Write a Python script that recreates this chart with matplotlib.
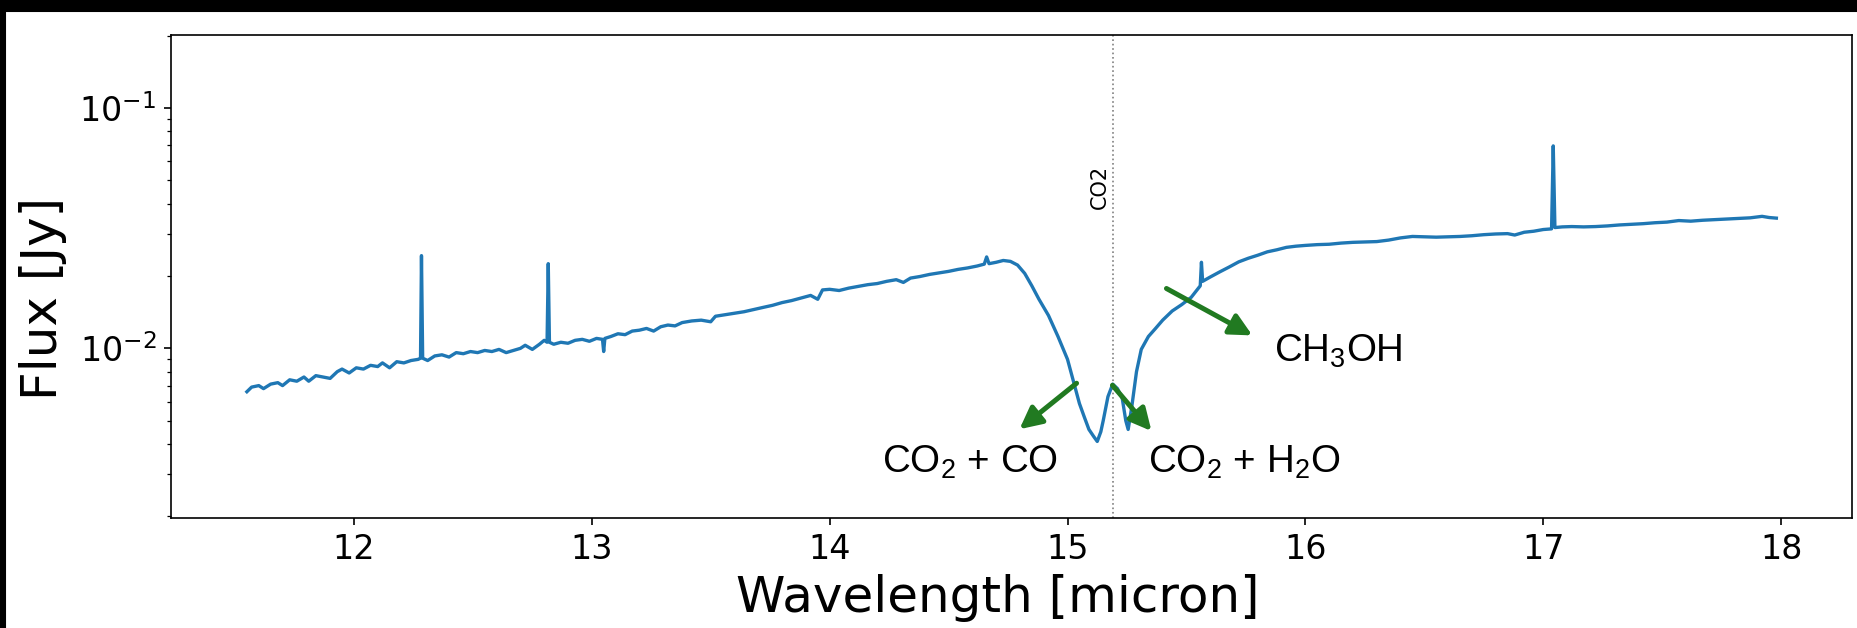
import matplotlib
matplotlib.use("Agg")
import matplotlib.pyplot as plt
from matplotlib.patches import Rectangle

# spectrum (wavelength in micron, flux in Jy)
wavelength = [
    11.55, 11.57, 11.60, 11.62, 11.65, 11.68, 11.70, 11.73, 11.76, 11.79,
    11.81, 11.84, 11.87, 11.90, 11.93, 11.95, 11.98, 12.01, 12.04, 12.07,
    12.10, 12.12, 12.15, 12.18, 12.21, 12.24, 12.27, 12.280, 12.284, 12.289,
    12.31, 12.34, 12.37, 12.40, 12.43, 12.46, 12.49, 12.52, 12.55, 12.58,
    12.61, 12.64, 12.67, 12.70, 12.72, 12.75, 12.78, 12.80, 12.812, 12.817,
    12.822, 12.84, 12.87, 12.90, 12.93, 12.96, 12.99, 13.02, 13.045, 13.05,
    13.055, 13.08, 13.11, 13.14, 13.17, 13.20, 13.23, 13.26, 13.29, 13.32,
    13.35, 13.38, 13.42, 13.46, 13.50, 13.52, 13.56, 13.60, 13.64, 13.68,
    13.72, 13.76, 13.80, 13.84, 13.88, 13.92, 13.95, 13.97, 14.00, 14.04,
    14.08, 14.12, 14.16, 14.20, 14.24, 14.28, 14.31, 14.34, 14.38, 14.42,
    14.46, 14.50, 14.54, 14.58, 14.62, 14.65, 14.66, 14.67, 14.70, 14.73,
    14.76, 14.79, 14.82, 14.85, 14.88, 14.92, 14.96, 15.00, 15.03, 15.05,
    15.07, 15.09, 15.11, 15.125, 15.14, 15.15, 15.17, 15.19, 15.21, 15.23,
    15.245, 15.255, 15.27, 15.29, 15.31, 15.34, 15.37, 15.40, 15.44, 15.48,
    15.52, 15.55, 15.558, 15.563, 15.568, 15.60, 15.64, 15.68, 15.72, 15.76,
    15.80, 15.84, 15.88, 15.92, 15.96, 16.00, 16.05, 16.10, 16.15, 16.20,
    16.25, 16.30, 16.35, 16.40, 16.45, 16.50, 16.55, 16.60, 16.65, 16.70,
    16.75, 16.80, 16.85, 16.88, 16.92, 16.96, 17.00, 17.035, 17.042, 17.049,
    17.08, 17.12, 17.17, 17.22, 17.27, 17.32, 17.37, 17.42, 17.47, 17.52,
    17.57, 17.62, 17.67, 17.72, 17.77, 17.82, 17.87, 17.92, 17.95, 17.98,
]
flux = [
    0.0066, 0.0069, 0.0070, 0.0068, 0.0071, 0.0072, 0.0070, 0.0074, 0.0073, 0.0076,
    0.0073, 0.0077, 0.0076, 0.0075, 0.0080, 0.0082, 0.0079, 0.0083, 0.0082, 0.0085,
    0.0084, 0.0087, 0.0083, 0.0088, 0.0087, 0.0089, 0.0090, 0.0091, 0.0243, 0.0091,
    0.0089, 0.0093, 0.0094, 0.0092, 0.0096, 0.0095, 0.0097, 0.0096, 0.0098, 0.0097,
    0.0099, 0.0096, 0.0098, 0.0100, 0.0103, 0.0099, 0.0104, 0.0108, 0.0106, 0.0225,
    0.0106, 0.0104, 0.0106, 0.0105, 0.0108, 0.0109, 0.0107, 0.0110, 0.0109, 0.0097,
    0.0110, 0.0112, 0.0115, 0.0114, 0.0118, 0.0119, 0.0121, 0.0118, 0.0123, 0.0125,
    0.0124, 0.0128, 0.0130, 0.0131, 0.0129, 0.0136, 0.0138, 0.0140, 0.0142, 0.0145,
    0.0148, 0.0151, 0.0155, 0.0158, 0.0162, 0.0166, 0.0160, 0.0175, 0.0176, 0.0174,
    0.0178, 0.0181, 0.0184, 0.0186, 0.0190, 0.0193, 0.0188, 0.0196, 0.0199, 0.0203,
    0.0206, 0.0209, 0.0213, 0.0216, 0.0220, 0.0224, 0.0240, 0.0225, 0.0228, 0.0232,
    0.0230, 0.0222, 0.0205, 0.0182, 0.0160, 0.0137, 0.0112, 0.0090, 0.0070, 0.0059,
    0.0052, 0.0046, 0.0043, 0.0041, 0.0045, 0.0050, 0.0063, 0.0071, 0.0068, 0.0062,
    0.0050, 0.0046, 0.0057, 0.0080, 0.0099, 0.0112, 0.0121, 0.0131, 0.0143, 0.0152,
    0.0163, 0.0178, 0.0182, 0.0228, 0.0190, 0.0198, 0.0208, 0.0218, 0.0229, 0.0237,
    0.0244, 0.0252, 0.0257, 0.0263, 0.0266, 0.0268, 0.0270, 0.0271, 0.0274, 0.0276,
    0.0277, 0.0278, 0.0282, 0.0288, 0.0292, 0.0291, 0.0290, 0.0291, 0.0292, 0.0294,
    0.0297, 0.0299, 0.0300, 0.0296, 0.0304, 0.0307, 0.0312, 0.0314, 0.0695, 0.0318,
    0.0320, 0.0321, 0.0320, 0.0321, 0.0323, 0.0326, 0.0328, 0.0330, 0.0333, 0.0335,
    0.0340, 0.0338, 0.0341, 0.0343, 0.0345, 0.0347, 0.0349, 0.0354, 0.0350, 0.0348,
]

line_name = "CO2"
line_pos = 15.19

# annotation labels: text, text anchor, arrow tail, arrow head
labels = ["CO$_2$ + CO", "CO$_2$ + H$_2$O", "CH$_3$OH"]
label_xy = [(14.22, 0.00303), (15.34, 0.00303), (15.87, 0.00883)]
arrow_from = [(15.038, 0.00716), (15.189, 0.00702), (15.416, 0.01774)]
arrow_to = [(14.798, 0.00461), (15.353, 0.00453), (15.777, 0.01132)]

plt.rcParams["mathtext.fontset"] = "custom"
plt.rcParams["mathtext.rm"] = "Liberation Sans"
plt.rcParams["mathtext.it"] = "Liberation Sans:italic"
plt.rcParams["mathtext.bf"] = "Liberation Sans:bold"

fig = plt.figure(figsize=(1857 / 150, 628 / 150), dpi=150)
ax = fig.add_axes([171 / 1857, 1 - 518 / 628, 1681 / 1857, 483 / 628])

ax.plot(wavelength, flux, color="#1f77b4", lw=1.6)
ax.set_yscale("log")
ax.set_xlim(11.231, 18.298)
ax.set_ylim(0.00197, 0.201)

ax.axvline(line_pos, color="gray", ls=":", lw=0.8)
ax.text(line_pos - 0.01, 0.047, line_name, rotation=90, ha="right",
        va="center", fontsize=10)

for txt, xy, a, b in zip(labels, label_xy, arrow_from, arrow_to):
    ax.annotate("", xy=b, xytext=a,
                arrowprops=dict(arrowstyle="-|>", color="#217a21", lw=2.4,
                                mutation_scale=22, shrinkA=0, shrinkB=0))
    ax.text(xy[0], xy[1], txt, fontsize=18.5, family="Liberation Sans",
            ha="left", va="baseline")

ax.set_xlabel("Wavelength [micron]", fontsize=24)
ax.xaxis.label.set_x(0.492)
ax.set_ylabel("Flux [Jy]", fontsize=24)
ax.yaxis.set_label_coords(-0.062, 0.455)
ax.tick_params(labelsize=16)

# black bands along the top and left edge of the screenshot
fig.patches.append(Rectangle((0, 1 - 11 / 628), 1, 11 / 628,
                             transform=fig.transFigure, color="black", zorder=10))
fig.patches.append(Rectangle((0, 0), 5 / 1857, 1,
                             transform=fig.transFigure, color="black", zorder=10))

fig.savefig("out.png", dpi=150)
